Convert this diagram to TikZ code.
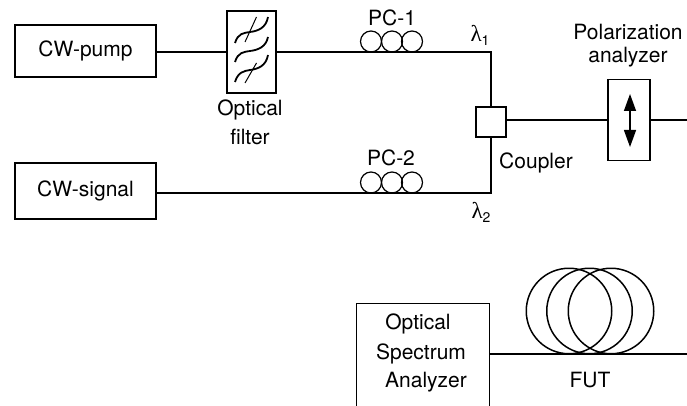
\documentclass[tikz,border=0pt]{standalone}
\usepackage{fontspec}
\setmainfont{TeX Gyre Heros}
\newfontfamily\lamfont{Liberation Serif}
\usetikzlibrary{arrows.meta}
\tikzset{
  fibre/.style={line width=1.8pt},
  box/.style={draw,line width=1.8pt,rectangle,inner sep=0pt,outer sep=0pt},
  lab/.style={inner sep=0pt,font=\fontsize{21}{24}\selectfont,align=center},
  pcloop/.style={draw,circle,line width=1.2pt,minimum size=21pt,inner sep=0pt,outer sep=0pt},
  futloop/.style={draw,circle,line width=1.5pt,minimum size=85.5pt,inner sep=0pt,outer sep=0pt},
  filt/.style={line width=1.8pt},
  filtthin/.style={line width=1pt}
}
\newcommand{\lam}[1]{{\lamfont\fontsize{23}{24}\selectfont λ}\raisebox{-4pt}{\fontsize{14}{16}\selectfont #1}}
\begin{document}
\begin{tikzpicture}[x=1pt,y=-1pt]
\useasboundingbox (0,0) rectangle (687,406);
\fill[white] (0,0) rectangle (687,406);
% boxes
\node[box,minimum width=141pt,minimum height=52pt] (pump) at (85.5,51) {};
\node[lab] (pumpt) at (85.5,51) {CW-pump};
\node[box,minimum width=141pt,minimum height=56pt] (signal) at (85.5,191) {};
\node[lab] (signalt) at (85.5,191) {CW-signal};
\node[box,minimum width=49pt,minimum height=82pt] (filter) at (251.5,52) {};
\node[box,minimum width=30pt,minimum height=30pt] (coupler) at (491,122) {};
\node[box,minimum width=42pt,minimum height=81pt] (pol) at (629,120) {};
% fibre junctions
\coordinate (c1) at (491,52);
\coordinate (c2) at (491,193);
\coordinate (polout) at (687,120);
\coordinate (fibend) at (687,354);
\coordinate (osaport) at (489,354);
\draw[fibre] (pump.east |- 0,52) -- (filter.west |- 0,52);
\draw[fibre,line join=miter] (filter.east |- 0,52) -- (c1) -- (coupler.north);
\draw[fibre,line join=miter] (signal.east |- c2) -- (c2) -- (coupler.south);
\draw[fibre] (coupler.east |- 0,120) -- (pol.west);
\draw[fibre] (pol.east) -- (polout);
\draw[fibre] (osaport) -- (fibend);
% filter symbol
\draw[filt] (235,43) .. controls (238,33) and (244,33) .. (250,32) .. controls (258,31) and (266,28) .. (268,17);
\draw[filt] (235,62) .. controls (238,52) and (244,52) .. (250,51) .. controls (258,50) and (266,47) .. (268,37);
\draw[filt] (235,82) .. controls (238,72) and (244,71) .. (250,70) .. controls (258,69) and (266,66) .. (268,55);
\draw[filtthin] (256.5,17) -- (245,42);
\draw[filtthin] (256.5,63) -- (245,83);
% polarization arrow
\draw[line width=1.4pt,{Triangle[length=17pt,width=12pt]}-{Triangle[length=17pt,width=12pt]}] (630,94) -- (630,147);
% polarization controllers
\foreach \n/\x in {a/371,b/392,c/412}{
  \node[pcloop] (pcone\n) at (\x,41.5) {};
  \node[pcloop] (pctwo\n) at (\x,182.5) {};
}
% FUT
\node[futloop] (futa) at (569,311) {};
\node[futloop] (futb) at (589.5,311) {};
\node[futloop] (futc) at (611,311) {};
% OSA (open at the bottom edge)
\coordinate (osabl) at (356,406);
\coordinate (osatl) at (356,303);
\coordinate (osatr) at (489,303);
\coordinate (osabr) at (489,406);
\draw[line width=1pt] (osabl) -- (osatl) -- (osatr) -- (osabr);
% labels
\node[lab] (pc1) at (392,18) {PC-1};
\node[lab] (pc2) at (391,158) {PC-2};
\node[lab] (l1) at (480,35) {\lam{1}};
\node[lab] (l2) at (481,212) {\lam{2}};
\node[lab] (poltext1) at (628,32) {Polarization};
\node[lab] (poltext2) at (628,57) {analyzer};
\node[lab] (coupt) at (536,163) {Coupler};
\node[lab] (filt1) at (250,110) {Optical};
\node[lab] (filt2) at (250,137) {filter};
\node[lab] (osa1) at (418,324) {Optical};
\node[lab] (osa2) at (421,354) {Spectrum};
\node[lab] (osa3) at (426,382) {Analyzer};
\node[lab] (fut) at (590,380) {FUT};
\end{tikzpicture}
\end{document}
